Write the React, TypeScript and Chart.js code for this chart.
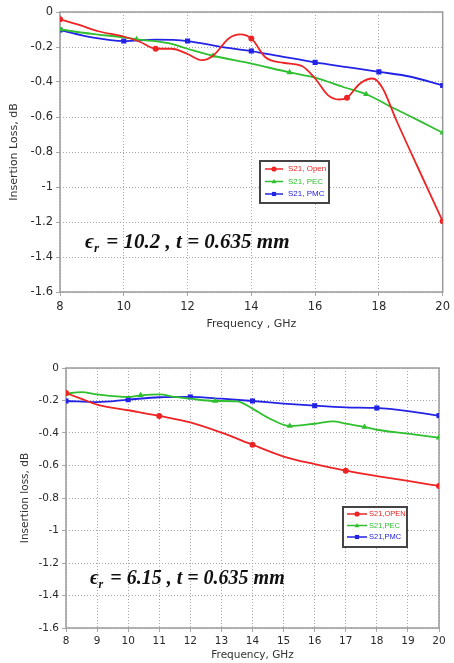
import React, { useEffect, useRef } from "react";
import { Chart, registerables } from "chart.js";

Chart.register(...registerables);

// ---------- Data: top chart (er = 10.2) ----------
const topOpenFreq = [8, 8.6, 9.2, 10, 10.5, 11, 11.5, 12, 12.45, 12.8, 13.3, 13.65, 14, 14.45, 15, 15.6, 16, 16.4, 16.75, 17, 17.4, 17.8, 18.1, 18.55, 19.2, 20];
const topOpenLoss = [-0.042, -0.074, -0.11, -0.14, -0.17, -0.21, -0.21, -0.24, -0.275, -0.25, -0.15, -0.128, -0.151, -0.26, -0.29, -0.31, -0.38, -0.475, -0.5, -0.49, -0.41, -0.38, -0.43, -0.62, -0.88, -1.195];
const topOpenMarkers = [8, 11, 14, 17, 20];

const topPecFreq = [8, 9, 10, 10.4, 11.4, 12, 12.8, 14, 15.2, 16, 16.9, 17.6, 18.5, 19.3, 20];
const topPecLoss = [-0.1, -0.125, -0.145, -0.156, -0.178, -0.21, -0.25, -0.295, -0.345, -0.375, -0.43, -0.47, -0.553, -0.625, -0.69];
const topPecMarkers = [8, 10.4, 12.8, 15.2, 17.6, 20];

const topPmcFreq = [8, 9, 10, 11, 12, 13, 14, 15, 16, 17, 18, 19, 20];
const topPmcLoss = [-0.103, -0.145, -0.166, -0.158, -0.166, -0.198, -0.223, -0.256, -0.288, -0.315, -0.342, -0.37, -0.42];
const topPmcMarkers = [8, 10, 12, 14, 16, 18, 20];

const topXTicks = [8, 10, 12, 14, 16, 18, 20];
const topLabels = ["S21, Open", "S21, PEC", "S21, PMC"];

// ---------- Data: bottom chart (er = 6.15) ----------
const botOpenFreq = [8, 8.5, 9, 10, 11, 12, 13, 14, 15, 16, 17, 18, 19, 20];
const botOpenLoss = [-0.154, -0.19, -0.225, -0.26, -0.295, -0.335, -0.398, -0.472, -0.545, -0.592, -0.632, -0.665, -0.695, -0.726];
const botOpenMarkers = [8, 11, 14, 17, 20];

const botPecFreq = [8, 8.5, 9, 10, 10.4, 11, 11.5, 12, 12.8, 13.5, 14, 14.5, 15.2, 16, 16.6, 17, 17.6, 18, 19, 20];
const botPecLoss = [-0.158, -0.148, -0.162, -0.178, -0.168, -0.162, -0.178, -0.189, -0.203, -0.205, -0.25, -0.306, -0.357, -0.343, -0.328, -0.343, -0.363, -0.38, -0.404, -0.429];
const botPecMarkers = [8, 10.4, 12.8, 15.2, 17.6, 20];

const botPmcFreq = [8, 9, 10, 11, 12, 13, 14, 15, 16, 17, 18, 19, 20];
const botPmcLoss = [-0.203, -0.21, -0.195, -0.18, -0.178, -0.189, -0.203, -0.219, -0.232, -0.242, -0.246, -0.265, -0.293];
const botPmcMarkers = [8, 10, 12, 14, 16, 18, 20];

const botXTicks = [8, 9, 10, 11, 12, 13, 14, 15, 16, 17, 18, 19, 20];
const botLabels = ["S21,OPEN", "S21,PEC", "S21,PMC"];

const yTicks = [0, -0.2, -0.4, -0.6, -0.8, -1, -1.2, -1.4, -1.6];

const RED = "#ee2424";
const GREEN = "#2fbf2f";
const BLUE = "#2323e6";

const FONT = "'DejaVu Sans', Verdana, sans-serif";

function drawMarker(ctx: CanvasRenderingContext2D, style: string, x: number, y: number, r: number, color: string) {
  ctx.save();
  ctx.fillStyle = color;
  ctx.beginPath();
  if (style === "triangle") {
    ctx.moveTo(x, y - r);
    ctx.lineTo(x + r * 0.95, y + r * 0.7);
    ctx.lineTo(x - r * 0.95, y + r * 0.7);
    ctx.closePath();
  } else if (style === "rect") {
    ctx.rect(x - r * 0.8, y - r * 0.8, r * 1.6, r * 1.6);
  } else {
    ctx.arc(x, y, r, 0, Math.PI * 2);
  }
  ctx.fill();
  ctx.restore();
}

const extrasPlugin = {
  id: "extras",
  beforeDatasetsDraw(chart: any) {
    const { ctx, chartArea } = chart;
    ctx.save();
    ctx.strokeStyle = "#9a9a9a";
    ctx.lineWidth = 1.5;
    ctx.setLineDash([]);
    ctx.strokeRect(chartArea.left, chartArea.top, chartArea.right - chartArea.left, chartArea.bottom - chartArea.top);
    ctx.restore();
  },
  afterDraw(chart: any, _args: any, opts: any) {
    const { ctx } = chart;
    const lg = opts.legend;
    ctx.save();
    ctx.fillStyle = "#ffffff";
    ctx.fillRect(lg.x, lg.y, lg.w, lg.h);
    ctx.strokeStyle = "#444444";
    ctx.lineWidth = 2;
    ctx.strokeRect(lg.x, lg.y, lg.w, lg.h);
    chart.data.datasets.forEach((ds: any, i: number) => {
      const yy = lg.y + lg.row0 + i * lg.rowGap;
      ctx.strokeStyle = ds.borderColor;
      ctx.lineWidth = 1.5;
      ctx.beginPath();
      ctx.moveTo(lg.x + lg.lineX0, yy);
      ctx.lineTo(lg.x + lg.lineX1, yy);
      ctx.stroke();
      drawMarker(ctx, ds.pointStyle, lg.x + (lg.lineX0 + lg.lineX1) / 2, yy, 2.6, ds.borderColor);
      ctx.fillStyle = ds.borderColor;
      ctx.font = lg.font;
      ctx.textBaseline = "middle";
      ctx.textAlign = "left";
      ctx.fillText(ds.label, lg.x + lg.textX, yy);
    });
    ctx.restore();

    const an = opts.note;
    ctx.save();
    ctx.fillStyle = "#111111";
    ctx.textBaseline = "alphabetic";
    ctx.textAlign = "left";
    const fam = "'Liberation Serif', 'DejaVu Serif', serif";
    ctx.font = `italic bold ${an.size}px ${fam}`;
    let x = an.x;
    ctx.fillText("\u03F5", x, an.y);
    x += ctx.measureText("\u03F5").width;
    ctx.font = `italic bold ${Math.round(an.size * 0.62)}px ${fam}`;
    ctx.fillText("r", x, an.y + 4);
    x += ctx.measureText("r").width + 2;
    ctx.font = `italic bold ${an.size}px ${fam}`;
    ctx.fillText(an.text, x, an.y);
    ctx.restore();
  },
};

function series(freq: number[], loss: number[], markers: number[], label: string, color: string, style: string, r: number) {
  return {
    label,
    data: freq.map((f, i) => ({ x: f, y: loss[i] })),
    borderColor: color,
    backgroundColor: color,
    borderWidth: 1.8,
    pointStyle: style,
    pointRadius: freq.map((f) => (markers.includes(f) ? r : 0)),
    pointBorderWidth: 0,
    pointHoverRadius: 0,
    cubicInterpolationMode: "monotone",
    fill: false,
  };
}

function makeConfig(p: any) {
  return {
    type: "line",
    data: { datasets: p.datasets },
    plugins: [extrasPlugin],
    options: {
      animation: false,
      responsive: false,
      events: [],
      layout: { padding: p.padding },
      plugins: {
        legend: { display: false },
        tooltip: { enabled: false },
        extras: { legend: p.legend, note: p.note },
      },
      scales: {
        x: {
          type: "linear",
          min: 8,
          max: 20,
          afterFit: (s: any) => { s.height = p.xHeight; },
          afterBuildTicks: (s: any) => { s.ticks = p.xTicks.map((v: number) => ({ value: v })); },
          ticks: { color: "#2a2a2a", font: { family: FONT, size: p.tickSize }, padding: p.xTickPad, maxRotation: 0, autoSkip: false },
          grid: { color: "#a8a8a8", lineWidth: 1, tickLength: 4 },
          border: { display: false, dash: [1, 2] },
          title: { display: true, text: p.xTitle, color: "#333", font: { family: FONT, size: p.titleSize }, padding: { top: 0, bottom: p.xTitlePad } },
        },
        y: {
          type: "linear",
          min: -1.6,
          max: 0,
          afterFit: (s: any) => { s.width = p.yWidth; },
          afterBuildTicks: (s: any) => { s.ticks = yTicks.map((v) => ({ value: v })); },
          ticks: {
            color: "#2a2a2a",
            font: { family: FONT, size: p.tickSize },
            padding: 3,
            callback: (v: number) => String(Number(v.toFixed(1))),
          },
          grid: { color: "#a8a8a8", lineWidth: 1, tickLength: 4 },
          border: { display: false, dash: [1, 2] },
          title: { display: true, text: p.yTitle, color: "#333", font: { family: FONT, size: p.titleSize }, padding: { top: p.yTitlePad, bottom: 0 } },
        },
      },
    },
  };
}

function ChartCanvas({ cfg, w, h }: { cfg: any; w: number; h: number }) {
  const ref = useRef<HTMLCanvasElement | null>(null);
  useEffect(() => {
    if (!ref.current) return;
    const chart = new Chart(ref.current, cfg);
    return () => chart.destroy();
  }, []);
  return <canvas ref={ref} width={w} height={h} style={{ display: "block", width: w, height: h }} />;
}

export default function App() {
  const topCfg = makeConfig({
    datasets: [
      series(topOpenFreq, topOpenLoss, topOpenMarkers, topLabels[0], RED, "circle", 3),
      series(topPecFreq, topPecLoss, topPecMarkers, topLabels[1], GREEN, "triangle", 3.6),
      series(topPmcFreq, topPmcLoss, topPmcMarkers, topLabels[2], BLUE, "rect", 3.6),
    ],
    padding: { top: 12, right: 8, left: 0, bottom: 0 },
    xHeight: 43,
    yWidth: 60,
    xTicks: topXTicks,
    tickSize: 11.5,
    titleSize: 11,
    xTickPad: 4,
    xTitle: "Frequency , GHz",
    yTitle: "Insertion Loss, dB",
    xTitlePad: 4,
    yTitlePad: 8,
    legend: { x: 260, y: 161, w: 69, h: 42, row0: 8, rowGap: 12.5, lineX0: 5, lineX1: 23, textX: 28, font: "8px 'Liberation Sans', Arial, sans-serif" },
    note: { x: 85, y: 248, size: 21, text: " = 10.2 , t = 0.635 mm" },
  });
  const botCfg = makeConfig({
    datasets: [
      series(botOpenFreq, botOpenLoss, botOpenMarkers, botLabels[0], RED, "circle", 3),
      series(botPecFreq, botPecLoss, botPecMarkers, botLabels[1], GREEN, "triangle", 3.6),
      series(botPmcFreq, botPmcLoss, botPmcMarkers, botLabels[2], BLUE, "rect", 3.6),
    ],
    padding: { top: 33, right: 15, left: 0, bottom: 0 },
    xHeight: 35,
    yWidth: 66,
    xTicks: botXTicks,
    tickSize: 10.5,
    titleSize: 10.5,
    xTickPad: 3,
    xTitle: "Frequency, GHz",
    yTitle: "Insertion loss, dB",
    xTitlePad: 1,
    yTitlePad: 19,
    legend: { x: 343, y: 172, w: 64, h: 40, row0: 7, rowGap: 11.5, lineX0: 4, lineX1: 24, textX: 26, font: "7.5px 'Liberation Sans', Arial, sans-serif" },
    note: { x: 90, y: 249, size: 20, text: " = 6.15 , t = 0.635 mm" },
  });
  return (
    <div style={{ position: "absolute", left: 0, top: 0, width: 454, height: 663, background: "#fff" }}>
      <ChartCanvas cfg={topCfg} w={454} h={335} />
      <ChartCanvas cfg={botCfg} w={454} h={328} />
    </div>
  );
}
